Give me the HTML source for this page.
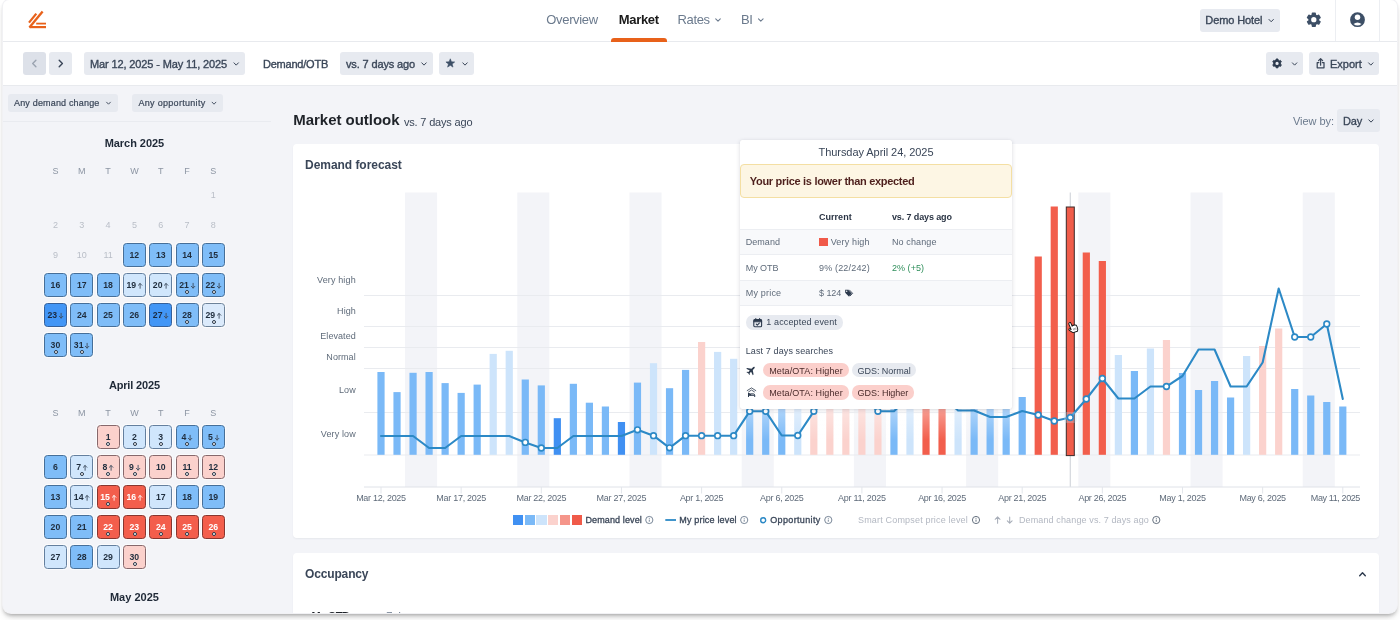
<!DOCTYPE html>
<html><head><meta charset="utf-8"><title>Market outlook</title>
<style>
html,body{margin:0;padding:0;background:#fff;}
body{width:1400px;height:620px;overflow:hidden;position:relative;font-family:"Liberation Sans", sans-serif;}
#win{position:absolute;left:2.5px;top:0;width:1394.5px;height:612.9px;border-radius:6px 6px 8px 8px;overflow:hidden;background:#f3f4f8;box-shadow:0 0 0 1px #f1f1f4,0 3px 4px -1px rgba(0,0,0,.32),0 6px 8px -2px rgba(0,0,0,.12);}
#in{position:absolute;left:-2.5px;top:0;width:1400px;height:620px;will-change:transform;}
</style></head><body>
<div id="win"><div id="in">
<div style="position:absolute;left:0.00px;top:0.00px;width:1400.00px;height:41.50px;background:#fff;border-radius:0px;"></div>
<div style="position:absolute;left:0.00px;top:41.00px;width:1400.00px;height:1.00px;background:#e8eaee;border-radius:0px;"></div>
<svg style="position:absolute;left:0;top:0;overflow:visible" width="1400" height="620" viewBox="0 0 1400 620"><g stroke="#e8611a" stroke-linecap="butt" fill="none"><path d="M29.0 22.6 L36.3 13.6" stroke-width="2.3"/><path d="M29.4 27.6 L42.6 11.4" stroke-width="2.3"/><path d="M36.2 23.6 L46.0 23.6" stroke-width="1.8"/><path d="M29.6 27.1 L46.0 27.1" stroke-width="2.2"/></g></svg>
<div style="position:absolute;left:546.30px;top:10.96px;font-size:13px;font-weight:400;color:#6b7a8d;line-height:18px;white-space:pre;letter-spacing:-0.336px;">Overview</div>
<div style="position:absolute;left:618.80px;top:10.96px;font-size:13px;font-weight:700;color:#1a1a1a;line-height:18px;white-space:pre;letter-spacing:-0.320px;">Market</div>
<div style="position:absolute;left:611.20px;top:38.00px;width:55.70px;height:3.50px;background:#e8611a;border-radius:0px;border-radius:3px 3px 0 0;"></div>
<div style="position:absolute;left:677.60px;top:10.96px;font-size:13px;font-weight:400;color:#6b7a8d;line-height:18px;white-space:pre;letter-spacing:-0.394px;">Rates</div>
<svg style="position:absolute;left:0;top:0;overflow:visible" width="1400" height="620" viewBox="0 0 1400 620"><path d="M715.70 18.80 L718.00 21.20 L720.30 18.80" fill="none" stroke="#6b7a8d" stroke-width="1.05" stroke-linecap="round" stroke-linejoin="round"/></svg>
<div style="position:absolute;left:741.00px;top:10.96px;font-size:13px;font-weight:400;color:#6b7a8d;line-height:18px;white-space:pre;letter-spacing:-0.448px;">BI</div>
<svg style="position:absolute;left:0;top:0;overflow:visible" width="1400" height="620" viewBox="0 0 1400 620"><path d="M758.50 18.80 L760.80 21.20 L763.10 18.80" fill="none" stroke="#6b7a8d" stroke-width="1.05" stroke-linecap="round" stroke-linejoin="round"/></svg>
<div style="position:absolute;left:1200.00px;top:9.00px;width:80.00px;height:22.70px;background:#e7eaf0;border-radius:3px;"></div>
<div style="position:absolute;left:1205.30px;top:13.19px;font-size:11px;font-weight:400;color:#3a4658;line-height:15px;white-space:pre;letter-spacing:-0.108px;-webkit-text-stroke:0.35px #3a4658;">Demo Hotel</div>
<svg style="position:absolute;left:0;top:0;overflow:visible" width="1400" height="620" viewBox="0 0 1400 620"><path d="M1269.00 19.45 L1271.20 21.75 L1273.40 19.45" fill="none" stroke="#3a4658" stroke-width="1.0" stroke-linecap="round" stroke-linejoin="round"/><path d="M1312.24 15.07 L1312.43 13.24 L1315.17 13.24 L1315.36 15.07 L1317.03 16.04 L1318.70 15.28 L1320.08 17.66 L1318.59 18.73 L1318.59 20.67 L1320.08 21.74 L1318.70 24.12 L1317.03 23.36 L1315.36 24.33 L1315.17 26.16 L1312.43 26.16 L1312.24 24.33 L1310.57 23.36 L1308.90 24.12 L1307.52 21.74 L1309.01 20.67 L1309.01 18.73 L1307.52 17.66 L1308.90 15.28 L1310.57 16.04 Z M1311.16 19.70 a2.64 2.64 0 1 0 5.28 0 a2.64 2.64 0 1 0 -5.28 0 Z" fill="#3d4f66" fill-rule="evenodd"/><path d="M1312.24 15.07 L1312.43 13.24 L1315.17 13.24 L1315.36 15.07 L1317.03 16.04 L1318.70 15.28 L1320.08 17.66 L1318.59 18.73 L1318.59 20.67 L1320.08 21.74 L1318.70 24.12 L1317.03 23.36 L1315.36 24.33 L1315.17 26.16 L1312.43 26.16 L1312.24 24.33 L1310.57 23.36 L1308.90 24.12 L1307.52 21.74 L1309.01 20.67 L1309.01 18.73 L1307.52 17.66 L1308.90 15.28 L1310.57 16.04 Z" fill="none" stroke="#3d4f66" stroke-width="1.45" stroke-linejoin="round"/></svg>
<div style="position:absolute;left:1335.30px;top:0.00px;width:1.00px;height:41.00px;background:#eceef2;border-radius:0px;"></div>
<div style="position:absolute;left:1379.30px;top:0.00px;width:1.00px;height:41.00px;background:#eceef2;border-radius:0px;"></div>
<svg style="position:absolute;left:0;top:0;overflow:visible" width="1400" height="620" viewBox="0 0 1400 620"><g><circle cx="1357.5" cy="19.7" r="7.4" fill="#3d4f66"/><circle cx="1357.5" cy="17.2" r="2.75" fill="#fff"/><path d="M1353.5 23.9 Q1357.5 20.9 1361.5 23.9 Q1357.5 27.0 1353.5 23.9 Z" fill="#fff"/></g></svg>
<div style="position:absolute;left:0.00px;top:42.00px;width:1400.00px;height:43.00px;background:#fff;border-radius:0px;"></div>
<div style="position:absolute;left:0.00px;top:85.00px;width:1400.00px;height:1.00px;background:#e8eaee;border-radius:0px;"></div>
<div style="position:absolute;left:23.20px;top:52.00px;width:22.60px;height:23.00px;background:#dde1e9;border-radius:3px;"></div>
<svg style="position:absolute;left:0;top:0;overflow:visible" width="1400" height="620" viewBox="0 0 1400 620"><path d="M35.90 60.30 L32.70 63.50 L35.90 66.70" fill="none" stroke="#9aa3b0" stroke-width="1.4" stroke-linecap="round" stroke-linejoin="round"/></svg>
<div style="position:absolute;left:49.00px;top:52.00px;width:23.10px;height:23.00px;background:#e7eaf0;border-radius:3px;"></div>
<svg style="position:absolute;left:0;top:0;overflow:visible" width="1400" height="620" viewBox="0 0 1400 620"><path d="M59.20 60.30 L62.40 63.50 L59.20 66.70" fill="none" stroke="#3a4658" stroke-width="1.4" stroke-linecap="round" stroke-linejoin="round"/></svg>
<div style="position:absolute;left:84.00px;top:52.00px;width:161.00px;height:23.00px;background:#e7eaf0;border-radius:3px;"></div>
<div style="position:absolute;left:90.00px;top:56.59px;font-size:11px;font-weight:400;color:#3a4658;line-height:15px;white-space:pre;letter-spacing:-0.127px;-webkit-text-stroke:0.35px #3a4658;">Mar 12, 2025 - May 11, 2025</div>
<svg style="position:absolute;left:0;top:0;overflow:visible" width="1400" height="620" viewBox="0 0 1400 620"><path d="M234.00 62.85 L236.20 65.15 L238.40 62.85" fill="none" stroke="#3a4658" stroke-width="1.0" stroke-linecap="round" stroke-linejoin="round"/></svg>
<div style="position:absolute;left:263.00px;top:56.59px;font-size:11px;font-weight:400;color:#3a4658;line-height:15px;white-space:pre;letter-spacing:-0.225px;-webkit-text-stroke:0.35px #3a4658;">Demand/OTB</div>
<div style="position:absolute;left:340.00px;top:52.00px;width:92.50px;height:23.00px;background:#e7eaf0;border-radius:3px;"></div>
<div style="position:absolute;left:346.00px;top:56.59px;font-size:11px;font-weight:400;color:#3a4658;line-height:15px;white-space:pre;letter-spacing:-0.138px;-webkit-text-stroke:0.35px #3a4658;">vs. 7 days ago</div>
<svg style="position:absolute;left:0;top:0;overflow:visible" width="1400" height="620" viewBox="0 0 1400 620"><path d="M421.80 62.85 L424.00 65.15 L426.20 62.85" fill="none" stroke="#3a4658" stroke-width="1.0" stroke-linecap="round" stroke-linejoin="round"/></svg>
<div style="position:absolute;left:439.00px;top:52.00px;width:34.50px;height:23.00px;background:#e7eaf0;border-radius:3px;"></div>
<svg style="position:absolute;left:0;top:0;overflow:visible" width="1400" height="620" viewBox="0 0 1400 620"><path d="M450.30 58.80 L451.44 61.84 L454.67 61.98 L452.14 64.00 L453.00 67.12 L450.30 65.33 L447.60 67.12 L448.46 64.00 L445.93 61.98 L449.16 61.84 Z" fill="#3d4f66" stroke="#3d4f66" stroke-width="0.6" stroke-linejoin="round"/><path d="M462.80 62.85 L465.00 65.15 L467.20 62.85" fill="none" stroke="#3a4658" stroke-width="1.0" stroke-linecap="round" stroke-linejoin="round"/></svg>
<div style="position:absolute;left:1265.60px;top:52.30px;width:37.80px;height:22.70px;background:#e7eaf0;border-radius:3px;"></div>
<svg style="position:absolute;left:0;top:0;overflow:visible" width="1400" height="620" viewBox="0 0 1400 620"><path d="M1275.99 60.24 L1276.11 59.00 L1277.99 59.00 L1278.11 60.24 L1279.25 60.90 L1280.39 60.39 L1281.33 62.01 L1280.31 62.74 L1280.31 64.06 L1281.33 64.79 L1280.39 66.41 L1279.25 65.90 L1278.11 66.56 L1277.99 67.80 L1276.11 67.80 L1275.99 66.56 L1274.85 65.90 L1273.71 66.41 L1272.77 64.79 L1273.79 64.06 L1273.79 62.74 L1272.77 62.01 L1273.71 60.39 L1274.85 60.90 Z M1275.43 63.40 a1.62 1.62 0 1 0 3.24 0 a1.62 1.62 0 1 0 -3.24 0 Z" fill="#2c3a4d" fill-rule="evenodd"/><path d="M1275.99 60.24 L1276.11 59.00 L1277.99 59.00 L1278.11 60.24 L1279.25 60.90 L1280.39 60.39 L1281.33 62.01 L1280.31 62.74 L1280.31 64.06 L1281.33 64.79 L1280.39 66.41 L1279.25 65.90 L1278.11 66.56 L1277.99 67.80 L1276.11 67.80 L1275.99 66.56 L1274.85 65.90 L1273.71 66.41 L1272.77 64.79 L1273.79 64.06 L1273.79 62.74 L1272.77 62.01 L1273.71 60.39 L1274.85 60.90 Z" fill="none" stroke="#2c3a4d" stroke-width="0.99" stroke-linejoin="round"/><path d="M1292.40 62.85 L1294.60 65.15 L1296.80 62.85" fill="none" stroke="#3a4658" stroke-width="1.0" stroke-linecap="round" stroke-linejoin="round"/></svg>
<div style="position:absolute;left:1309.20px;top:52.30px;width:70.00px;height:22.70px;background:#e7eaf0;border-radius:3px;"></div>
<svg style="position:absolute;left:0;top:0;overflow:visible" width="1400" height="620" viewBox="0 0 1400 620"><g fill="none" stroke="#3a4658" stroke-width="1.25" stroke-linecap="round" stroke-linejoin="round"><path d="M1318.8 62.6 H1317.1999999999998 V67.8 H1324.0 V62.6 H1322.3999999999999"/><path d="M1320.6 65.2 V58.800000000000004 M1318.6 60.6 L1320.6 58.6 L1322.6 60.6"/></g></svg>
<div style="position:absolute;left:1330.00px;top:56.59px;font-size:11px;font-weight:400;color:#3a4658;line-height:15px;white-space:pre;-webkit-text-stroke:0.35px #3a4658;">Export</div>
<svg style="position:absolute;left:0;top:0;overflow:visible" width="1400" height="620" viewBox="0 0 1400 620"><path d="M1368.60 62.85 L1370.80 65.15 L1373.00 62.85" fill="none" stroke="#3a4658" stroke-width="1.0" stroke-linecap="round" stroke-linejoin="round"/></svg>
<div style="position:absolute;left:8.00px;top:94.00px;width:110.00px;height:17.50px;background:#e7eaf0;border-radius:3px;"></div>
<div style="position:absolute;left:14.00px;top:96.81px;font-size:9px;font-weight:400;color:#3a4658;line-height:13px;white-space:pre;letter-spacing:0.173px;-webkit-text-stroke:0.2px #3a4658;">Any demand change</div>
<svg style="position:absolute;left:0;top:0;overflow:visible" width="1400" height="620" viewBox="0 0 1400 620"><path d="M106.60 102.20 L108.50 104.20 L110.40 102.20" fill="none" stroke="#3a4658" stroke-width="0.9" stroke-linecap="round" stroke-linejoin="round"/></svg>
<div style="position:absolute;left:132.00px;top:94.00px;width:91.00px;height:17.50px;background:#e7eaf0;border-radius:3px;"></div>
<div style="position:absolute;left:138.50px;top:96.81px;font-size:9px;font-weight:400;color:#3a4658;line-height:13px;white-space:pre;letter-spacing:0.297px;-webkit-text-stroke:0.2px #3a4658;">Any opportunity</div>
<svg style="position:absolute;left:0;top:0;overflow:visible" width="1400" height="620" viewBox="0 0 1400 620"><path d="M212.10 102.20 L214.00 104.20 L215.90 102.20" fill="none" stroke="#3a4658" stroke-width="0.9" stroke-linecap="round" stroke-linejoin="round"/></svg>
<div style="position:absolute;left:3.00px;top:120.60px;width:268.00px;height:1.00px;background:#e9ebf0;border-radius:0px;"></div>
<div style="position:absolute;left:104.70px;top:135.88px;font-size:11px;font-weight:700;color:#1f2937;line-height:15px;white-space:pre;letter-spacing:-0.054px;">March 2025</div>
<div style="position:absolute;left:52.39px;top:164.81px;font-size:9px;font-weight:400;color:#8c95a3;line-height:13px;white-space:pre;">S</div>
<div style="position:absolute;left:77.98px;top:164.81px;font-size:9px;font-weight:400;color:#8c95a3;line-height:13px;white-space:pre;">M</div>
<div style="position:absolute;left:105.31px;top:164.81px;font-size:9px;font-weight:400;color:#8c95a3;line-height:13px;white-space:pre;">T</div>
<div style="position:absolute;left:130.14px;top:164.81px;font-size:9px;font-weight:400;color:#8c95a3;line-height:13px;white-space:pre;">W</div>
<div style="position:absolute;left:157.97px;top:164.81px;font-size:9px;font-weight:400;color:#8c95a3;line-height:13px;white-space:pre;">T</div>
<div style="position:absolute;left:184.30px;top:164.81px;font-size:9px;font-weight:400;color:#8c95a3;line-height:13px;white-space:pre;">F</div>
<div style="position:absolute;left:210.37px;top:164.81px;font-size:9px;font-weight:400;color:#8c95a3;line-height:13px;white-space:pre;">S</div>
<div style="position:absolute;left:210.87px;top:188.81px;font-size:9px;font-weight:400;color:#b9bec7;line-height:13px;white-space:pre;">1</div>
<div style="position:absolute;left:52.89px;top:218.81px;font-size:9px;font-weight:400;color:#b9bec7;line-height:13px;white-space:pre;">2</div>
<div style="position:absolute;left:79.22px;top:218.81px;font-size:9px;font-weight:400;color:#b9bec7;line-height:13px;white-space:pre;">3</div>
<div style="position:absolute;left:105.55px;top:218.81px;font-size:9px;font-weight:400;color:#b9bec7;line-height:13px;white-space:pre;">4</div>
<div style="position:absolute;left:131.88px;top:218.81px;font-size:9px;font-weight:400;color:#b9bec7;line-height:13px;white-space:pre;">5</div>
<div style="position:absolute;left:158.21px;top:218.81px;font-size:9px;font-weight:400;color:#b9bec7;line-height:13px;white-space:pre;">6</div>
<div style="position:absolute;left:184.54px;top:218.81px;font-size:9px;font-weight:400;color:#b9bec7;line-height:13px;white-space:pre;">7</div>
<div style="position:absolute;left:210.87px;top:218.81px;font-size:9px;font-weight:400;color:#b9bec7;line-height:13px;white-space:pre;">8</div>
<div style="position:absolute;left:52.89px;top:248.81px;font-size:9px;font-weight:400;color:#b9bec7;line-height:13px;white-space:pre;">9</div>
<div style="position:absolute;left:76.72px;top:248.81px;font-size:9px;font-weight:400;color:#b9bec7;line-height:13px;white-space:pre;">10</div>
<div style="position:absolute;left:103.39px;top:248.81px;font-size:9px;font-weight:400;color:#b9bec7;line-height:13px;white-space:pre;">11</div>
<div style="position:absolute;left:122.89px;top:243.20px;width:23.0px;height:23.4px;box-sizing:border-box;border:1px solid #466f99;border-radius:3.5px;background:#7fbdf8;color:#1f2d3d;font-size:8.7px;font-weight:700;display:flex;align-items:center;justify-content:center;line-height:10px;box-shadow:0 0 0 1px rgba(255,255,255,.75);padding-top:0.9px"><span>12</span></div>
<div style="position:absolute;left:149.22px;top:243.20px;width:23.0px;height:23.4px;box-sizing:border-box;border:1px solid #466f99;border-radius:3.5px;background:#7fbdf8;color:#1f2d3d;font-size:8.7px;font-weight:700;display:flex;align-items:center;justify-content:center;line-height:10px;box-shadow:0 0 0 1px rgba(255,255,255,.75);padding-top:0.9px"><span>13</span></div>
<div style="position:absolute;left:175.55px;top:243.20px;width:23.0px;height:23.4px;box-sizing:border-box;border:1px solid #466f99;border-radius:3.5px;background:#7fbdf8;color:#1f2d3d;font-size:8.7px;font-weight:700;display:flex;align-items:center;justify-content:center;line-height:10px;box-shadow:0 0 0 1px rgba(255,255,255,.75);padding-top:0.9px"><span>14</span></div>
<div style="position:absolute;left:201.88px;top:243.20px;width:23.0px;height:23.4px;box-sizing:border-box;border:1px solid #466f99;border-radius:3.5px;background:#7fbdf8;color:#1f2d3d;font-size:8.7px;font-weight:700;display:flex;align-items:center;justify-content:center;line-height:10px;box-shadow:0 0 0 1px rgba(255,255,255,.75);padding-top:0.9px"><span>15</span></div>
<div style="position:absolute;left:43.90px;top:273.20px;width:23.0px;height:23.4px;box-sizing:border-box;border:1px solid #466f99;border-radius:3.5px;background:#7fbdf8;color:#1f2d3d;font-size:8.7px;font-weight:700;display:flex;align-items:center;justify-content:center;line-height:10px;box-shadow:0 0 0 1px rgba(255,255,255,.75);padding-top:0.9px"><span>16</span></div>
<div style="position:absolute;left:70.23px;top:273.20px;width:23.0px;height:23.4px;box-sizing:border-box;border:1px solid #466f99;border-radius:3.5px;background:#7fbdf8;color:#1f2d3d;font-size:8.7px;font-weight:700;display:flex;align-items:center;justify-content:center;line-height:10px;box-shadow:0 0 0 1px rgba(255,255,255,.75);padding-top:0.9px"><span>17</span></div>
<div style="position:absolute;left:96.56px;top:273.20px;width:23.0px;height:23.4px;box-sizing:border-box;border:1px solid #466f99;border-radius:3.5px;background:#7fbdf8;color:#1f2d3d;font-size:8.7px;font-weight:700;display:flex;align-items:center;justify-content:center;line-height:10px;box-shadow:0 0 0 1px rgba(255,255,255,.75);padding-top:0.9px"><span>18</span></div>
<div style="position:absolute;left:122.89px;top:273.20px;width:23.0px;height:23.4px;box-sizing:border-box;border:1px solid #647f9e;border-radius:3.5px;background:#d0e6fc;color:#1f2d3d;font-size:8.7px;font-weight:700;display:flex;align-items:center;justify-content:center;line-height:10px;box-shadow:0 0 0 1px rgba(255,255,255,.75);padding-top:0.9px"><span>19</span><svg width="4.2" height="5.6" viewBox="0 0 4.2 5.6" style="margin-left:1.9px;overflow:visible"><path d="M2.1 5.3 V0.5 M0.3 2.3 L2.1 0.5 L3.9 2.3" fill="none" stroke="#3d4c5e" stroke-width="0.9" stroke-linecap="round" stroke-linejoin="round"/></svg></div>
<div style="position:absolute;left:149.22px;top:273.20px;width:23.0px;height:23.4px;box-sizing:border-box;border:1px solid #647f9e;border-radius:3.5px;background:#d0e6fc;color:#1f2d3d;font-size:8.7px;font-weight:700;display:flex;align-items:center;justify-content:center;line-height:10px;box-shadow:0 0 0 1px rgba(255,255,255,.75);padding-top:0.9px"><span>20</span><svg width="4.2" height="5.6" viewBox="0 0 4.2 5.6" style="margin-left:1.9px;overflow:visible"><path d="M2.1 5.3 V0.5 M0.3 2.3 L2.1 0.5 L3.9 2.3" fill="none" stroke="#3d4c5e" stroke-width="0.9" stroke-linecap="round" stroke-linejoin="round"/></svg></div>
<div style="position:absolute;left:175.55px;top:273.20px;width:23.0px;height:23.4px;box-sizing:border-box;border:1px solid #466f99;border-radius:3.5px;background:#7fbdf8;color:#1f2d3d;font-size:8.7px;font-weight:700;display:flex;align-items:center;justify-content:center;line-height:10px;box-shadow:0 0 0 1px rgba(255,255,255,.75);padding-top:0.9px"><span>21</span><svg width="4.2" height="5.6" viewBox="0 0 4.2 5.6" style="margin-left:1.9px;overflow:visible"><path d="M2.1 0.3 V5.1 M0.3 3.3 L2.1 5.1 L3.9 3.3" fill="none" stroke="#3d4c5e" stroke-width="0.9" stroke-linecap="round" stroke-linejoin="round"/></svg><i style="position:absolute;left:8.75px;top:15.90px;width:2.1px;height:2.1px;border-radius:50%;background:#fff;border:0.8px solid #263445;box-sizing:content-box"></i></div>
<div style="position:absolute;left:201.88px;top:273.20px;width:23.0px;height:23.4px;box-sizing:border-box;border:1px solid #466f99;border-radius:3.5px;background:#7fbdf8;color:#1f2d3d;font-size:8.7px;font-weight:700;display:flex;align-items:center;justify-content:center;line-height:10px;box-shadow:0 0 0 1px rgba(255,255,255,.75);padding-top:0.9px"><span>22</span><svg width="4.2" height="5.6" viewBox="0 0 4.2 5.6" style="margin-left:1.9px;overflow:visible"><path d="M2.1 0.3 V5.1 M0.3 3.3 L2.1 5.1 L3.9 3.3" fill="none" stroke="#3d4c5e" stroke-width="0.9" stroke-linecap="round" stroke-linejoin="round"/></svg><i style="position:absolute;left:8.75px;top:15.90px;width:2.1px;height:2.1px;border-radius:50%;background:#fff;border:0.8px solid #263445;box-sizing:content-box"></i></div>
<div style="position:absolute;left:43.90px;top:303.20px;width:23.0px;height:23.4px;box-sizing:border-box;border:1px solid #35609a;border-radius:3.5px;background:#4296f6;color:#1a2a40;font-size:8.7px;font-weight:700;display:flex;align-items:center;justify-content:center;line-height:10px;box-shadow:0 0 0 1px rgba(255,255,255,.75);padding-top:0.9px"><span>23</span><svg width="4.2" height="5.6" viewBox="0 0 4.2 5.6" style="margin-left:1.9px;overflow:visible"><path d="M2.1 0.3 V5.1 M0.3 3.3 L2.1 5.1 L3.9 3.3" fill="none" stroke="#3d4c5e" stroke-width="0.9" stroke-linecap="round" stroke-linejoin="round"/></svg></div>
<div style="position:absolute;left:70.23px;top:303.20px;width:23.0px;height:23.4px;box-sizing:border-box;border:1px solid #466f99;border-radius:3.5px;background:#7fbdf8;color:#1f2d3d;font-size:8.7px;font-weight:700;display:flex;align-items:center;justify-content:center;line-height:10px;box-shadow:0 0 0 1px rgba(255,255,255,.75);padding-top:0.9px"><span>24</span></div>
<div style="position:absolute;left:96.56px;top:303.20px;width:23.0px;height:23.4px;box-sizing:border-box;border:1px solid #466f99;border-radius:3.5px;background:#7fbdf8;color:#1f2d3d;font-size:8.7px;font-weight:700;display:flex;align-items:center;justify-content:center;line-height:10px;box-shadow:0 0 0 1px rgba(255,255,255,.75);padding-top:0.9px"><span>25</span></div>
<div style="position:absolute;left:122.89px;top:303.20px;width:23.0px;height:23.4px;box-sizing:border-box;border:1px solid #466f99;border-radius:3.5px;background:#7fbdf8;color:#1f2d3d;font-size:8.7px;font-weight:700;display:flex;align-items:center;justify-content:center;line-height:10px;box-shadow:0 0 0 1px rgba(255,255,255,.75);padding-top:0.9px"><span>26</span></div>
<div style="position:absolute;left:149.22px;top:303.20px;width:23.0px;height:23.4px;box-sizing:border-box;border:1px solid #35609a;border-radius:3.5px;background:#4296f6;color:#1a2a40;font-size:8.7px;font-weight:700;display:flex;align-items:center;justify-content:center;line-height:10px;box-shadow:0 0 0 1px rgba(255,255,255,.75);padding-top:0.9px"><span>27</span><svg width="4.2" height="5.6" viewBox="0 0 4.2 5.6" style="margin-left:1.9px;overflow:visible"><path d="M2.1 0.3 V5.1 M0.3 3.3 L2.1 5.1 L3.9 3.3" fill="none" stroke="#3d4c5e" stroke-width="0.9" stroke-linecap="round" stroke-linejoin="round"/></svg></div>
<div style="position:absolute;left:175.55px;top:303.20px;width:23.0px;height:23.4px;box-sizing:border-box;border:1px solid #466f99;border-radius:3.5px;background:#7fbdf8;color:#1f2d3d;font-size:8.7px;font-weight:700;display:flex;align-items:center;justify-content:center;line-height:10px;box-shadow:0 0 0 1px rgba(255,255,255,.75);padding-top:0.9px"><span>28</span><i style="position:absolute;left:8.75px;top:15.90px;width:2.1px;height:2.1px;border-radius:50%;background:#fff;border:0.8px solid #263445;box-sizing:content-box"></i></div>
<div style="position:absolute;left:201.88px;top:303.20px;width:23.0px;height:23.4px;box-sizing:border-box;border:1px solid #6d8299;border-radius:3.5px;background:#dbeafb;color:#1f2d3d;font-size:8.7px;font-weight:700;display:flex;align-items:center;justify-content:center;line-height:10px;box-shadow:0 0 0 1px rgba(255,255,255,.75);padding-top:0.9px"><span>29</span><svg width="4.2" height="5.6" viewBox="0 0 4.2 5.6" style="margin-left:1.9px;overflow:visible"><path d="M2.1 5.3 V0.5 M0.3 2.3 L2.1 0.5 L3.9 2.3" fill="none" stroke="#3d4c5e" stroke-width="0.9" stroke-linecap="round" stroke-linejoin="round"/></svg><i style="position:absolute;left:8.75px;top:15.90px;width:2.1px;height:2.1px;border-radius:50%;background:#fff;border:0.8px solid #263445;box-sizing:content-box"></i></div>
<div style="position:absolute;left:43.90px;top:333.20px;width:23.0px;height:23.4px;box-sizing:border-box;border:1px solid #466f99;border-radius:3.5px;background:#7fbdf8;color:#1f2d3d;font-size:8.7px;font-weight:700;display:flex;align-items:center;justify-content:center;line-height:10px;box-shadow:0 0 0 1px rgba(255,255,255,.75);padding-top:0.9px"><span>30</span><i style="position:absolute;left:8.75px;top:15.90px;width:2.1px;height:2.1px;border-radius:50%;background:#fff;border:0.8px solid #263445;box-sizing:content-box"></i></div>
<div style="position:absolute;left:70.23px;top:333.20px;width:23.0px;height:23.4px;box-sizing:border-box;border:1px solid #466f99;border-radius:3.5px;background:#7fbdf8;color:#1f2d3d;font-size:8.7px;font-weight:700;display:flex;align-items:center;justify-content:center;line-height:10px;box-shadow:0 0 0 1px rgba(255,255,255,.75);padding-top:0.9px"><span>31</span><svg width="4.2" height="5.6" viewBox="0 0 4.2 5.6" style="margin-left:1.9px;overflow:visible"><path d="M2.1 0.3 V5.1 M0.3 3.3 L2.1 5.1 L3.9 3.3" fill="none" stroke="#3d4c5e" stroke-width="0.9" stroke-linecap="round" stroke-linejoin="round"/></svg><i style="position:absolute;left:8.75px;top:15.90px;width:2.1px;height:2.1px;border-radius:50%;background:#fff;border:0.8px solid #263445;box-sizing:content-box"></i></div>
<div style="position:absolute;left:108.90px;top:377.88px;font-size:11px;font-weight:700;color:#1f2937;line-height:15px;white-space:pre;letter-spacing:-0.159px;">April 2025</div>
<div style="position:absolute;left:52.39px;top:406.81px;font-size:9px;font-weight:400;color:#8c95a3;line-height:13px;white-space:pre;">S</div>
<div style="position:absolute;left:77.98px;top:406.81px;font-size:9px;font-weight:400;color:#8c95a3;line-height:13px;white-space:pre;">M</div>
<div style="position:absolute;left:105.31px;top:406.81px;font-size:9px;font-weight:400;color:#8c95a3;line-height:13px;white-space:pre;">T</div>
<div style="position:absolute;left:130.14px;top:406.81px;font-size:9px;font-weight:400;color:#8c95a3;line-height:13px;white-space:pre;">W</div>
<div style="position:absolute;left:157.97px;top:406.81px;font-size:9px;font-weight:400;color:#8c95a3;line-height:13px;white-space:pre;">T</div>
<div style="position:absolute;left:184.30px;top:406.81px;font-size:9px;font-weight:400;color:#8c95a3;line-height:13px;white-space:pre;">F</div>
<div style="position:absolute;left:210.37px;top:406.81px;font-size:9px;font-weight:400;color:#8c95a3;line-height:13px;white-space:pre;">S</div>
<div style="position:absolute;left:96.56px;top:425.20px;width:23.0px;height:23.4px;box-sizing:border-box;border:1px solid #86686c;border-radius:3.5px;background:#fbd1cc;color:#1f2d3d;font-size:8.7px;font-weight:700;display:flex;align-items:center;justify-content:center;line-height:10px;box-shadow:0 0 0 1px rgba(255,255,255,.75);padding-top:0.9px"><span>1</span><i style="position:absolute;left:8.75px;top:15.90px;width:2.1px;height:2.1px;border-radius:50%;background:#fff;border:0.8px solid #263445;box-sizing:content-box"></i></div>
<div style="position:absolute;left:122.89px;top:425.20px;width:23.0px;height:23.4px;box-sizing:border-box;border:1px solid #647f9e;border-radius:3.5px;background:#d0e6fc;color:#1f2d3d;font-size:8.7px;font-weight:700;display:flex;align-items:center;justify-content:center;line-height:10px;box-shadow:0 0 0 1px rgba(255,255,255,.75);padding-top:0.9px"><span>2</span><i style="position:absolute;left:8.75px;top:15.90px;width:2.1px;height:2.1px;border-radius:50%;background:#fff;border:0.8px solid #263445;box-sizing:content-box"></i></div>
<div style="position:absolute;left:149.22px;top:425.20px;width:23.0px;height:23.4px;box-sizing:border-box;border:1px solid #647f9e;border-radius:3.5px;background:#d0e6fc;color:#1f2d3d;font-size:8.7px;font-weight:700;display:flex;align-items:center;justify-content:center;line-height:10px;box-shadow:0 0 0 1px rgba(255,255,255,.75);padding-top:0.9px"><span>3</span><i style="position:absolute;left:8.75px;top:15.90px;width:2.1px;height:2.1px;border-radius:50%;background:#fff;border:0.8px solid #263445;box-sizing:content-box"></i></div>
<div style="position:absolute;left:175.55px;top:425.20px;width:23.0px;height:23.4px;box-sizing:border-box;border:1px solid #466f99;border-radius:3.5px;background:#7fbdf8;color:#1f2d3d;font-size:8.7px;font-weight:700;display:flex;align-items:center;justify-content:center;line-height:10px;box-shadow:0 0 0 1px rgba(255,255,255,.75);padding-top:0.9px"><span>4</span><svg width="4.2" height="5.6" viewBox="0 0 4.2 5.6" style="margin-left:1.9px;overflow:visible"><path d="M2.1 0.3 V5.1 M0.3 3.3 L2.1 5.1 L3.9 3.3" fill="none" stroke="#3d4c5e" stroke-width="0.9" stroke-linecap="round" stroke-linejoin="round"/></svg><i style="position:absolute;left:8.75px;top:15.90px;width:2.1px;height:2.1px;border-radius:50%;background:#fff;border:0.8px solid #263445;box-sizing:content-box"></i></div>
<div style="position:absolute;left:201.88px;top:425.20px;width:23.0px;height:23.4px;box-sizing:border-box;border:1px solid #466f99;border-radius:3.5px;background:#7fbdf8;color:#1f2d3d;font-size:8.7px;font-weight:700;display:flex;align-items:center;justify-content:center;line-height:10px;box-shadow:0 0 0 1px rgba(255,255,255,.75);padding-top:0.9px"><span>5</span><svg width="4.2" height="5.6" viewBox="0 0 4.2 5.6" style="margin-left:1.9px;overflow:visible"><path d="M2.1 0.3 V5.1 M0.3 3.3 L2.1 5.1 L3.9 3.3" fill="none" stroke="#3d4c5e" stroke-width="0.9" stroke-linecap="round" stroke-linejoin="round"/></svg><i style="position:absolute;left:8.75px;top:15.90px;width:2.1px;height:2.1px;border-radius:50%;background:#fff;border:0.8px solid #263445;box-sizing:content-box"></i></div>
<div style="position:absolute;left:43.90px;top:455.20px;width:23.0px;height:23.4px;box-sizing:border-box;border:1px solid #466f99;border-radius:3.5px;background:#7fbdf8;color:#1f2d3d;font-size:8.7px;font-weight:700;display:flex;align-items:center;justify-content:center;line-height:10px;box-shadow:0 0 0 1px rgba(255,255,255,.75);padding-top:0.9px"><span>6</span></div>
<div style="position:absolute;left:70.23px;top:455.20px;width:23.0px;height:23.4px;box-sizing:border-box;border:1px solid #647f9e;border-radius:3.5px;background:#d0e6fc;color:#1f2d3d;font-size:8.7px;font-weight:700;display:flex;align-items:center;justify-content:center;line-height:10px;box-shadow:0 0 0 1px rgba(255,255,255,.75);padding-top:0.9px"><span>7</span><svg width="4.2" height="5.6" viewBox="0 0 4.2 5.6" style="margin-left:1.9px;overflow:visible"><path d="M2.1 5.3 V0.5 M0.3 2.3 L2.1 0.5 L3.9 2.3" fill="none" stroke="#3d4c5e" stroke-width="0.9" stroke-linecap="round" stroke-linejoin="round"/></svg><i style="position:absolute;left:8.75px;top:15.90px;width:2.1px;height:2.1px;border-radius:50%;background:#fff;border:0.8px solid #263445;box-sizing:content-box"></i></div>
<div style="position:absolute;left:96.56px;top:455.20px;width:23.0px;height:23.4px;box-sizing:border-box;border:1px solid #86686c;border-radius:3.5px;background:#fbd1cc;color:#1f2d3d;font-size:8.7px;font-weight:700;display:flex;align-items:center;justify-content:center;line-height:10px;box-shadow:0 0 0 1px rgba(255,255,255,.75);padding-top:0.9px"><span>8</span><svg width="4.2" height="5.6" viewBox="0 0 4.2 5.6" style="margin-left:1.9px;overflow:visible"><path d="M2.1 5.3 V0.5 M0.3 2.3 L2.1 0.5 L3.9 2.3" fill="none" stroke="#3d4c5e" stroke-width="0.9" stroke-linecap="round" stroke-linejoin="round"/></svg><i style="position:absolute;left:8.75px;top:15.90px;width:2.1px;height:2.1px;border-radius:50%;background:#fff;border:0.8px solid #263445;box-sizing:content-box"></i></div>
<div style="position:absolute;left:122.89px;top:455.20px;width:23.0px;height:23.4px;box-sizing:border-box;border:1px solid #86686c;border-radius:3.5px;background:#fbd1cc;color:#1f2d3d;font-size:8.7px;font-weight:700;display:flex;align-items:center;justify-content:center;line-height:10px;box-shadow:0 0 0 1px rgba(255,255,255,.75);padding-top:0.9px"><span>9</span><svg width="4.2" height="5.6" viewBox="0 0 4.2 5.6" style="margin-left:1.9px;overflow:visible"><path d="M2.1 0.3 V5.1 M0.3 3.3 L2.1 5.1 L3.9 3.3" fill="none" stroke="#3d4c5e" stroke-width="0.9" stroke-linecap="round" stroke-linejoin="round"/></svg><i style="position:absolute;left:8.75px;top:15.90px;width:2.1px;height:2.1px;border-radius:50%;background:#fff;border:0.8px solid #263445;box-sizing:content-box"></i></div>
<div style="position:absolute;left:149.22px;top:455.20px;width:23.0px;height:23.4px;box-sizing:border-box;border:1px solid #86686c;border-radius:3.5px;background:#fbd1cc;color:#1f2d3d;font-size:8.7px;font-weight:700;display:flex;align-items:center;justify-content:center;line-height:10px;box-shadow:0 0 0 1px rgba(255,255,255,.75);padding-top:0.9px"><span>10</span></div>
<div style="position:absolute;left:175.55px;top:455.20px;width:23.0px;height:23.4px;box-sizing:border-box;border:1px solid #86686c;border-radius:3.5px;background:#fbd1cc;color:#1f2d3d;font-size:8.7px;font-weight:700;display:flex;align-items:center;justify-content:center;line-height:10px;box-shadow:0 0 0 1px rgba(255,255,255,.75);padding-top:0.9px"><span>11</span><i style="position:absolute;left:8.75px;top:15.90px;width:2.1px;height:2.1px;border-radius:50%;background:#fff;border:0.8px solid #263445;box-sizing:content-box"></i></div>
<div style="position:absolute;left:201.88px;top:455.20px;width:23.0px;height:23.4px;box-sizing:border-box;border:1px solid #86686c;border-radius:3.5px;background:#fbd1cc;color:#1f2d3d;font-size:8.7px;font-weight:700;display:flex;align-items:center;justify-content:center;line-height:10px;box-shadow:0 0 0 1px rgba(255,255,255,.75);padding-top:0.9px"><span>12</span><i style="position:absolute;left:8.75px;top:15.90px;width:2.1px;height:2.1px;border-radius:50%;background:#fff;border:0.8px solid #263445;box-sizing:content-box"></i></div>
<div style="position:absolute;left:43.90px;top:485.20px;width:23.0px;height:23.4px;box-sizing:border-box;border:1px solid #466f99;border-radius:3.5px;background:#7fbdf8;color:#1f2d3d;font-size:8.7px;font-weight:700;display:flex;align-items:center;justify-content:center;line-height:10px;box-shadow:0 0 0 1px rgba(255,255,255,.75);padding-top:0.9px"><span>13</span></div>
<div style="position:absolute;left:70.23px;top:485.20px;width:23.0px;height:23.4px;box-sizing:border-box;border:1px solid #647f9e;border-radius:3.5px;background:#d0e6fc;color:#1f2d3d;font-size:8.7px;font-weight:700;display:flex;align-items:center;justify-content:center;line-height:10px;box-shadow:0 0 0 1px rgba(255,255,255,.75);padding-top:0.9px"><span>14</span><svg width="4.2" height="5.6" viewBox="0 0 4.2 5.6" style="margin-left:1.9px;overflow:visible"><path d="M2.1 5.3 V0.5 M0.3 2.3 L2.1 0.5 L3.9 2.3" fill="none" stroke="#3d4c5e" stroke-width="0.9" stroke-linecap="round" stroke-linejoin="round"/></svg></div>
<div style="position:absolute;left:96.56px;top:485.20px;width:23.0px;height:23.4px;box-sizing:border-box;border:1px solid #86352f;border-radius:3.5px;background:#f35e4c;color:#ffffff;font-size:8.7px;font-weight:700;display:flex;align-items:center;justify-content:center;line-height:10px;box-shadow:0 0 0 1px rgba(255,255,255,.75);padding-top:0.9px"><span>15</span><svg width="4.2" height="5.6" viewBox="0 0 4.2 5.6" style="margin-left:1.9px;overflow:visible"><path d="M2.1 5.3 V0.5 M0.3 2.3 L2.1 0.5 L3.9 2.3" fill="none" stroke="#ffffff" stroke-width="0.9" stroke-linecap="round" stroke-linejoin="round"/></svg><i style="position:absolute;left:8.75px;top:15.90px;width:2.1px;height:2.1px;border-radius:50%;background:#fff;border:0.8px solid #263445;box-sizing:content-box"></i></div>
<div style="position:absolute;left:122.89px;top:485.20px;width:23.0px;height:23.4px;box-sizing:border-box;border:1px solid #86352f;border-radius:3.5px;background:#f35e4c;color:#ffffff;font-size:8.7px;font-weight:700;display:flex;align-items:center;justify-content:center;line-height:10px;box-shadow:0 0 0 1px rgba(255,255,255,.75);padding-top:0.9px"><span>16</span><svg width="4.2" height="5.6" viewBox="0 0 4.2 5.6" style="margin-left:1.9px;overflow:visible"><path d="M2.1 5.3 V0.5 M0.3 2.3 L2.1 0.5 L3.9 2.3" fill="none" stroke="#ffffff" stroke-width="0.9" stroke-linecap="round" stroke-linejoin="round"/></svg></div>
<div style="position:absolute;left:149.22px;top:485.20px;width:23.0px;height:23.4px;box-sizing:border-box;border:1px solid #647f9e;border-radius:3.5px;background:#d0e6fc;color:#1f2d3d;font-size:8.7px;font-weight:700;display:flex;align-items:center;justify-content:center;line-height:10px;box-shadow:0 0 0 1px rgba(255,255,255,.75);padding-top:0.9px"><span>17</span></div>
<div style="position:absolute;left:175.55px;top:485.20px;width:23.0px;height:23.4px;box-sizing:border-box;border:1px solid #466f99;border-radius:3.5px;background:#7fbdf8;color:#1f2d3d;font-size:8.7px;font-weight:700;display:flex;align-items:center;justify-content:center;line-height:10px;box-shadow:0 0 0 1px rgba(255,255,255,.75);padding-top:0.9px"><span>18</span></div>
<div style="position:absolute;left:201.88px;top:485.20px;width:23.0px;height:23.4px;box-sizing:border-box;border:1px solid #466f99;border-radius:3.5px;background:#7fbdf8;color:#1f2d3d;font-size:8.7px;font-weight:700;display:flex;align-items:center;justify-content:center;line-height:10px;box-shadow:0 0 0 1px rgba(255,255,255,.75);padding-top:0.9px"><span>19</span></div>
<div style="position:absolute;left:43.90px;top:515.20px;width:23.0px;height:23.4px;box-sizing:border-box;border:1px solid #466f99;border-radius:3.5px;background:#7fbdf8;color:#1f2d3d;font-size:8.7px;font-weight:700;display:flex;align-items:center;justify-content:center;line-height:10px;box-shadow:0 0 0 1px rgba(255,255,255,.75);padding-top:0.9px"><span>20</span></div>
<div style="position:absolute;left:70.23px;top:515.20px;width:23.0px;height:23.4px;box-sizing:border-box;border:1px solid #466f99;border-radius:3.5px;background:#7fbdf8;color:#1f2d3d;font-size:8.7px;font-weight:700;display:flex;align-items:center;justify-content:center;line-height:10px;box-shadow:0 0 0 1px rgba(255,255,255,.75);padding-top:0.9px"><span>21</span></div>
<div style="position:absolute;left:96.56px;top:515.20px;width:23.0px;height:23.4px;box-sizing:border-box;border:1px solid #86352f;border-radius:3.5px;background:#f35e4c;color:#ffffff;font-size:8.7px;font-weight:700;display:flex;align-items:center;justify-content:center;line-height:10px;box-shadow:0 0 0 1px rgba(255,255,255,.75);padding-top:0.9px"><span>22</span><i style="position:absolute;left:8.75px;top:15.90px;width:2.1px;height:2.1px;border-radius:50%;background:#fff;border:0.8px solid #263445;box-sizing:content-box"></i></div>
<div style="position:absolute;left:122.89px;top:515.20px;width:23.0px;height:23.4px;box-sizing:border-box;border:1px solid #86352f;border-radius:3.5px;background:#f35e4c;color:#ffffff;font-size:8.7px;font-weight:700;display:flex;align-items:center;justify-content:center;line-height:10px;box-shadow:0 0 0 1px rgba(255,255,255,.75);padding-top:0.9px"><span>23</span><i style="position:absolute;left:8.75px;top:15.90px;width:2.1px;height:2.1px;border-radius:50%;background:#fff;border:0.8px solid #263445;box-sizing:content-box"></i></div>
<div style="position:absolute;left:149.22px;top:515.20px;width:23.0px;height:23.4px;box-sizing:border-box;border:1px solid #86352f;border-radius:3.5px;background:#f35e4c;color:#ffffff;font-size:8.7px;font-weight:700;display:flex;align-items:center;justify-content:center;line-height:10px;box-shadow:0 0 0 1px rgba(255,255,255,.75);padding-top:0.9px"><span>24</span><i style="position:absolute;left:8.75px;top:15.90px;width:2.1px;height:2.1px;border-radius:50%;background:#fff;border:0.8px solid #263445;box-sizing:content-box"></i></div>
<div style="position:absolute;left:175.55px;top:515.20px;width:23.0px;height:23.4px;box-sizing:border-box;border:1px solid #86352f;border-radius:3.5px;background:#f35e4c;color:#ffffff;font-size:8.7px;font-weight:700;display:flex;align-items:center;justify-content:center;line-height:10px;box-shadow:0 0 0 1px rgba(255,255,255,.75);padding-top:0.9px"><span>25</span><i style="position:absolute;left:8.75px;top:15.90px;width:2.1px;height:2.1px;border-radius:50%;background:#fff;border:0.8px solid #263445;box-sizing:content-box"></i></div>
<div style="position:absolute;left:201.88px;top:515.20px;width:23.0px;height:23.4px;box-sizing:border-box;border:1px solid #86352f;border-radius:3.5px;background:#f35e4c;color:#ffffff;font-size:8.7px;font-weight:700;display:flex;align-items:center;justify-content:center;line-height:10px;box-shadow:0 0 0 1px rgba(255,255,255,.75);padding-top:0.9px"><span>26</span><i style="position:absolute;left:8.75px;top:15.90px;width:2.1px;height:2.1px;border-radius:50%;background:#fff;border:0.8px solid #263445;box-sizing:content-box"></i></div>
<div style="position:absolute;left:43.90px;top:545.20px;width:23.0px;height:23.4px;box-sizing:border-box;border:1px solid #647f9e;border-radius:3.5px;background:#d0e6fc;color:#1f2d3d;font-size:8.7px;font-weight:700;display:flex;align-items:center;justify-content:center;line-height:10px;box-shadow:0 0 0 1px rgba(255,255,255,.75);padding-top:0.9px"><span>27</span></div>
<div style="position:absolute;left:70.23px;top:545.20px;width:23.0px;height:23.4px;box-sizing:border-box;border:1px solid #466f99;border-radius:3.5px;background:#7fbdf8;color:#1f2d3d;font-size:8.7px;font-weight:700;display:flex;align-items:center;justify-content:center;line-height:10px;box-shadow:0 0 0 1px rgba(255,255,255,.75);padding-top:0.9px"><span>28</span></div>
<div style="position:absolute;left:96.56px;top:545.20px;width:23.0px;height:23.4px;box-sizing:border-box;border:1px solid #647f9e;border-radius:3.5px;background:#d0e6fc;color:#1f2d3d;font-size:8.7px;font-weight:700;display:flex;align-items:center;justify-content:center;line-height:10px;box-shadow:0 0 0 1px rgba(255,255,255,.75);padding-top:0.9px"><span>29</span></div>
<div style="position:absolute;left:122.89px;top:545.20px;width:23.0px;height:23.4px;box-sizing:border-box;border:1px solid #86686c;border-radius:3.5px;background:#fbd1cc;color:#1f2d3d;font-size:8.7px;font-weight:700;display:flex;align-items:center;justify-content:center;line-height:10px;box-shadow:0 0 0 1px rgba(255,255,255,.75);padding-top:0.9px"><span>30</span><i style="position:absolute;left:8.75px;top:15.90px;width:2.1px;height:2.1px;border-radius:50%;background:#fff;border:0.8px solid #263445;box-sizing:content-box"></i></div>
<div style="position:absolute;left:109.90px;top:589.88px;font-size:11px;font-weight:700;color:#1f2937;line-height:15px;white-space:pre;letter-spacing:0.008px;">May 2025</div>
<div style="position:absolute;left:293.30px;top:109.33px;font-size:15px;font-weight:700;color:#1f2329;line-height:21px;white-space:pre;letter-spacing:-0.035px;">Market outlook</div>
<div style="position:absolute;left:403.90px;top:115.09px;font-size:11px;font-weight:400;color:#3a4658;line-height:15px;white-space:pre;letter-spacing:-0.174px;">vs. 7 days ago</div>
<div style="position:absolute;left:1293.00px;top:114.09px;font-size:11px;font-weight:400;color:#6b7a8d;line-height:15px;white-space:pre;letter-spacing:-0.047px;">View by:</div>
<div style="position:absolute;left:1337.00px;top:109.00px;width:42.50px;height:23.00px;background:#e7eaf0;border-radius:3px;"></div>
<div style="position:absolute;left:1343.00px;top:114.09px;font-size:11px;font-weight:400;color:#3a4658;line-height:15px;white-space:pre;letter-spacing:-0.188px;-webkit-text-stroke:0.3px #3a4658;">Day</div>
<svg style="position:absolute;left:0;top:0;overflow:visible" width="1400" height="620" viewBox="0 0 1400 620"><path d="M1368.80 119.85 L1371.00 122.15 L1373.20 119.85" fill="none" stroke="#3a4658" stroke-width="1.0" stroke-linecap="round" stroke-linejoin="round"/></svg>
<div style="position:absolute;left:293.30px;top:143.80px;width:1086.00px;height:394.70px;background:#fff;border-radius:4px;box-shadow:0 1px 2px rgba(40,50,70,.06);"></div>
<div style="position:absolute;left:293.30px;top:553.00px;width:1086.00px;height:80.00px;background:#fff;border-radius:4px;box-shadow:0 1px 2px rgba(40,50,70,.06);"></div>
<div style="position:absolute;left:305.00px;top:157.02px;font-size:12px;font-weight:700;color:#3a4658;line-height:17px;white-space:pre;letter-spacing:-0.038px;">Demand forecast</div>
<div style="position:absolute;left:305.00px;top:566.22px;font-size:12px;font-weight:700;color:#3a4658;line-height:17px;white-space:pre;letter-spacing:-0.145px;">Occupancy</div>
<svg style="position:absolute;left:0;top:0;overflow:visible" width="1400" height="620" viewBox="0 0 1400 620"><path d="M1359.70 575.70 L1362.50 572.70 L1365.30 575.70" fill="none" stroke="#2c3a4d" stroke-width="1.4" stroke-linecap="round" stroke-linejoin="round"/></svg>
<div style="position:absolute;left:311.50px;top:608.68px;font-size:11px;font-weight:700;color:#1f2329;line-height:15px;white-space:pre;letter-spacing:-0.677px;">My OTB</div>
<div style="position:absolute;left:370.00px;top:609.09px;font-size:11px;font-weight:400;color:#6b7a8d;line-height:15px;white-space:pre;letter-spacing:-0.246px;">vs. 7 days ago</div>
<svg style="position:absolute;left:0;top:0;overflow:visible" width="1400" height="620" viewBox="0 0 1400 620"><rect x="405.06" y="192.5" width="32.06" height="294.5" fill="#f3f4f8"/><rect x="517.27" y="192.5" width="32.06" height="294.5" fill="#f3f4f8"/><rect x="629.48" y="192.5" width="32.06" height="294.5" fill="#f3f4f8"/><rect x="741.69" y="192.5" width="32.06" height="294.5" fill="#f3f4f8"/><rect x="853.90" y="192.5" width="32.06" height="294.5" fill="#f3f4f8"/><rect x="966.11" y="192.5" width="32.06" height="294.5" fill="#f3f4f8"/><rect x="1078.32" y="192.5" width="32.06" height="294.5" fill="#f3f4f8"/><rect x="1190.53" y="192.5" width="32.06" height="294.5" fill="#f3f4f8"/><rect x="1302.74" y="192.5" width="32.06" height="294.5" fill="#f3f4f8"/><path d="M364 295.5 H1360" stroke="#e9ebef" stroke-width="1" fill="none"/><path d="M364 326.5 H1360" stroke="#e9ebef" stroke-width="1" fill="none"/><path d="M364 347.5 H1360" stroke="#e9ebef" stroke-width="1" fill="none"/><path d="M364 368.5 H1360" stroke="#e9ebef" stroke-width="1" fill="none"/><path d="M364 412.5 H1360" stroke="#e9ebef" stroke-width="1" fill="none"/><path d="M364 455 H1360" stroke="#e9ebef" stroke-width="1" fill="none"/></svg>
<div style="position:absolute;left:317.00px;top:274.02px;font-size:9px;font-weight:400;color:#5f6b7a;line-height:13px;white-space:pre;letter-spacing:0.141px;">Very high</div>
<div style="position:absolute;left:337.10px;top:304.92px;font-size:9px;font-weight:400;color:#5f6b7a;line-height:13px;white-space:pre;letter-spacing:0.046px;">High</div>
<div style="position:absolute;left:320.30px;top:330.22px;font-size:9px;font-weight:400;color:#5f6b7a;line-height:13px;white-space:pre;letter-spacing:0.059px;">Elevated</div>
<div style="position:absolute;left:326.30px;top:351.12px;font-size:9px;font-weight:400;color:#5f6b7a;line-height:13px;white-space:pre;letter-spacing:0.081px;">Normal</div>
<div style="position:absolute;left:339.00px;top:384.42px;font-size:9px;font-weight:400;color:#5f6b7a;line-height:13px;white-space:pre;letter-spacing:0.095px;">Low</div>
<div style="position:absolute;left:320.80px;top:427.92px;font-size:9px;font-weight:400;color:#5f6b7a;line-height:13px;white-space:pre;letter-spacing:0.123px;">Very low</div>
<svg style="position:absolute;left:0;top:0;overflow:visible" width="1400" height="620" viewBox="0 0 1400 620"><path d="M1070.3 192.5 V487" stroke="#d4d7dd" stroke-width="1.2" fill="none"/><rect x="377.40" y="372.00" width="7.2" height="82.80" fill="#7ab9f7"/><rect x="393.43" y="392.10" width="7.2" height="62.70" fill="#7ab9f7"/><rect x="409.46" y="372.80" width="7.2" height="82.00" fill="#7ab9f7"/><rect x="425.49" y="372.00" width="7.2" height="82.80" fill="#7ab9f7"/><rect x="441.52" y="383.10" width="7.2" height="71.70" fill="#7ab9f7"/><rect x="457.55" y="392.90" width="7.2" height="61.90" fill="#7ab9f7"/><rect x="473.58" y="384.60" width="7.2" height="70.20" fill="#7ab9f7"/><rect x="489.61" y="353.90" width="7.2" height="100.90" fill="#cde4fb"/><rect x="505.64" y="350.80" width="7.2" height="104.00" fill="#cde4fb"/><rect x="521.67" y="379.50" width="7.2" height="75.30" fill="#7ab9f7"/><rect x="537.70" y="385.40" width="7.2" height="69.40" fill="#7ab9f7"/><rect x="553.73" y="418.20" width="7.2" height="36.60" fill="#4090f2"/><rect x="569.76" y="383.80" width="7.2" height="71.00" fill="#7ab9f7"/><rect x="585.79" y="402.70" width="7.2" height="52.10" fill="#7ab9f7"/><rect x="601.82" y="406.50" width="7.2" height="48.30" fill="#7ab9f7"/><rect x="617.85" y="422.00" width="7.2" height="32.80" fill="#4090f2"/><rect x="633.88" y="382.60" width="7.2" height="72.20" fill="#7ab9f7"/><rect x="649.91" y="363.20" width="7.2" height="91.60" fill="#cde4fb"/><rect x="665.94" y="388.20" width="7.2" height="66.60" fill="#7ab9f7"/><rect x="681.97" y="369.90" width="7.2" height="84.90" fill="#7ab9f7"/><rect x="698.00" y="342.00" width="7.2" height="112.80" fill="#fbd2cd"/><rect x="714.03" y="351.90" width="7.2" height="102.90" fill="#cde4fb"/><rect x="730.06" y="358.80" width="7.2" height="96.00" fill="#cde4fb"/><rect x="746.09" y="380.00" width="7.2" height="74.80" fill="#7ab9f7"/><rect x="762.12" y="375.00" width="7.2" height="79.80" fill="#7ab9f7"/><rect x="778.15" y="385.00" width="7.2" height="69.80" fill="#7ab9f7"/><rect x="794.18" y="360.00" width="7.2" height="94.80" fill="#cde4fb"/><rect x="810.21" y="340.00" width="7.2" height="114.80" fill="#fbd2cd"/><rect x="826.24" y="335.00" width="7.2" height="119.80" fill="#fbd2cd"/><rect x="842.27" y="338.00" width="7.2" height="116.80" fill="#fbd2cd"/><rect x="858.30" y="330.00" width="7.2" height="124.80" fill="#fbd2cd"/><rect x="874.33" y="335.00" width="7.2" height="119.80" fill="#fbd2cd"/><rect x="890.36" y="380.00" width="7.2" height="74.80" fill="#7ab9f7"/><rect x="906.39" y="360.00" width="7.2" height="94.80" fill="#cde4fb"/><rect x="922.42" y="300.00" width="7.2" height="154.80" fill="#f25e4c"/><rect x="938.45" y="300.00" width="7.2" height="154.80" fill="#f25e4c"/><rect x="954.48" y="360.00" width="7.2" height="94.80" fill="#cde4fb"/><rect x="970.51" y="380.00" width="7.2" height="74.80" fill="#7ab9f7"/><rect x="986.54" y="380.00" width="7.2" height="74.80" fill="#7ab9f7"/><rect x="1002.57" y="385.00" width="7.2" height="69.80" fill="#7ab9f7"/><rect x="1018.60" y="397.00" width="7.2" height="57.80" fill="#7ab9f7"/><rect x="1034.63" y="256.50" width="7.2" height="198.30" fill="#f25e4c"/><rect x="1050.66" y="206.50" width="7.2" height="248.30" fill="#f25e4c"/><rect x="1066.29" y="207.00" width="8.00" height="248.60" fill="#f05c4a" stroke="#3b2a2a" stroke-width="1"/><rect x="1082.72" y="252.50" width="7.2" height="202.30" fill="#f25e4c"/><rect x="1098.75" y="261.00" width="7.2" height="193.80" fill="#f25e4c"/><rect x="1114.78" y="355.00" width="7.2" height="99.80" fill="#cde4fb"/><rect x="1130.81" y="371.00" width="7.2" height="83.80" fill="#7ab9f7"/><rect x="1146.84" y="348.50" width="7.2" height="106.30" fill="#cde4fb"/><rect x="1162.87" y="340.00" width="7.2" height="114.80" fill="#fbd2cd"/><rect x="1178.90" y="373.00" width="7.2" height="81.80" fill="#7ab9f7"/><rect x="1194.93" y="390.00" width="7.2" height="64.80" fill="#7ab9f7"/><rect x="1210.96" y="381.00" width="7.2" height="73.80" fill="#7ab9f7"/><rect x="1226.99" y="397.50" width="7.2" height="57.30" fill="#7ab9f7"/><rect x="1243.02" y="356.00" width="7.2" height="98.80" fill="#cde4fb"/><rect x="1259.05" y="346.00" width="7.2" height="108.80" fill="#fbd2cd"/><rect x="1275.08" y="328.50" width="7.2" height="126.30" fill="#fbd2cd"/><rect x="1291.11" y="389.00" width="7.2" height="65.80" fill="#7ab9f7"/><rect x="1307.14" y="395.50" width="7.2" height="59.30" fill="#7ab9f7"/><rect x="1323.17" y="402.00" width="7.2" height="52.80" fill="#7ab9f7"/><rect x="1339.20" y="406.50" width="7.2" height="48.30" fill="#7ab9f7"/><defs><linearGradient id="wg" x1="0" y1="0" x2="0" y2="1"><stop offset="0" stop-color="#fff" stop-opacity="0.42"/><stop offset="0.7" stop-color="#fff" stop-opacity="0"/></linearGradient></defs><rect x="738" y="407" width="276" height="47.5" fill="url(#wg)"/><path d="M364 487 H1360" stroke="#dfe2e8" stroke-width="1" fill="none"/><path d="M381.00 487 V493.5" stroke="#e3e6eb" stroke-width="1" fill="none"/><path d="M461.15 487 V493.5" stroke="#e3e6eb" stroke-width="1" fill="none"/><path d="M541.30 487 V493.5" stroke="#e3e6eb" stroke-width="1" fill="none"/><path d="M621.45 487 V493.5" stroke="#e3e6eb" stroke-width="1" fill="none"/><path d="M701.60 487 V493.5" stroke="#e3e6eb" stroke-width="1" fill="none"/><path d="M781.75 487 V493.5" stroke="#e3e6eb" stroke-width="1" fill="none"/><path d="M861.90 487 V493.5" stroke="#e3e6eb" stroke-width="1" fill="none"/><path d="M942.05 487 V493.5" stroke="#e3e6eb" stroke-width="1" fill="none"/><path d="M1022.20 487 V493.5" stroke="#e3e6eb" stroke-width="1" fill="none"/><path d="M1102.35 487 V493.5" stroke="#e3e6eb" stroke-width="1" fill="none"/><path d="M1182.50 487 V493.5" stroke="#e3e6eb" stroke-width="1" fill="none"/><path d="M1262.65 487 V493.5" stroke="#e3e6eb" stroke-width="1" fill="none"/><path d="M1342.80 487 V493.5" stroke="#e3e6eb" stroke-width="1" fill="none"/></svg>
<div style="position:absolute;left:356.15px;top:491.81px;font-size:9px;font-weight:400;color:#5f6b7a;line-height:13px;white-space:pre;letter-spacing:-0.279px;">Mar 12, 2025</div>
<div style="position:absolute;left:436.30px;top:491.81px;font-size:9px;font-weight:400;color:#5f6b7a;line-height:13px;white-space:pre;letter-spacing:-0.279px;">Mar 17, 2025</div>
<div style="position:absolute;left:516.45px;top:491.81px;font-size:9px;font-weight:400;color:#5f6b7a;line-height:13px;white-space:pre;letter-spacing:-0.279px;">Mar 22, 2025</div>
<div style="position:absolute;left:596.60px;top:491.81px;font-size:9px;font-weight:400;color:#5f6b7a;line-height:13px;white-space:pre;letter-spacing:-0.279px;">Mar 27, 2025</div>
<div style="position:absolute;left:679.90px;top:491.81px;font-size:9px;font-weight:400;color:#5f6b7a;line-height:13px;white-space:pre;letter-spacing:-0.286px;">Apr 1, 2025</div>
<div style="position:absolute;left:760.05px;top:491.81px;font-size:9px;font-weight:400;color:#5f6b7a;line-height:13px;white-space:pre;letter-spacing:-0.286px;">Apr 6, 2025</div>
<div style="position:absolute;left:838.00px;top:491.81px;font-size:9px;font-weight:400;color:#5f6b7a;line-height:13px;white-space:pre;letter-spacing:-0.256px;">Apr 11, 2025</div>
<div style="position:absolute;left:918.15px;top:491.81px;font-size:9px;font-weight:400;color:#5f6b7a;line-height:13px;white-space:pre;letter-spacing:-0.312px;">Apr 16, 2025</div>
<div style="position:absolute;left:998.30px;top:491.81px;font-size:9px;font-weight:400;color:#5f6b7a;line-height:13px;white-space:pre;letter-spacing:-0.312px;">Apr 21, 2025</div>
<div style="position:absolute;left:1078.45px;top:491.81px;font-size:9px;font-weight:400;color:#5f6b7a;line-height:13px;white-space:pre;letter-spacing:-0.312px;">Apr 26, 2025</div>
<div style="position:absolute;left:1159.30px;top:491.81px;font-size:9px;font-weight:400;color:#5f6b7a;line-height:13px;white-space:pre;letter-spacing:-0.285px;">May 1, 2025</div>
<div style="position:absolute;left:1239.45px;top:491.81px;font-size:9px;font-weight:400;color:#5f6b7a;line-height:13px;white-space:pre;letter-spacing:-0.285px;">May 6, 2025</div>
<div style="position:absolute;left:1310.80px;top:491.81px;font-size:9px;font-weight:400;color:#5f6b7a;line-height:13px;white-space:pre;letter-spacing:-0.390px;">May 11, 2025</div>
<svg style="position:absolute;left:0;top:0;overflow:visible" width="1400" height="620" viewBox="0 0 1400 620"><polyline points="381.00,436 397.03,436 413.06,436 429.09,448 445.12,448 461.15,436 477.18,436 493.21,436 509.24,436 525.27,442.4 541.30,448 557.33,448 573.36,436 589.39,436 605.42,436 621.45,436 637.48,429.8 653.51,435.7 669.54,447.8 685.57,435.7 701.60,435.7 717.63,435.7 733.66,435.7 749.69,411.3 765.72,411.3 781.75,435.5 797.78,435.5 813.81,411.3 829.84,398 845.87,398 861.90,398 877.93,411.3 893.96,411.3 909.99,396 926.02,396 942.05,396 958.08,410.5 974.11,410.5 990.14,417 1006.17,417 1022.20,411 1038.23,415 1054.26,421 1070.29,417.5 1086.32,399 1102.35,378.5 1118.38,398.5 1134.41,398.5 1150.44,386.5 1166.47,386.5 1182.50,376 1198.53,349.5 1214.56,349.5 1230.59,386.5 1246.62,386.5 1262.65,362.5 1278.68,288.5 1294.71,337 1310.74,337 1326.77,324 1342.80,399" fill="none" stroke="#2c89c6" stroke-width="2.1" stroke-linejoin="round" stroke-linecap="round"/><rect x="1063.79" y="412.0" width="13" height="11" rx="3" fill="#bcd9f2" opacity="0.3"/><circle cx="525.27" cy="442.4" r="2.85" fill="#fff" stroke="#2c89c6" stroke-width="1.6"/><circle cx="541.30" cy="448" r="2.85" fill="#fff" stroke="#2c89c6" stroke-width="1.6"/><circle cx="637.48" cy="429.8" r="2.85" fill="#fff" stroke="#2c89c6" stroke-width="1.6"/><circle cx="653.51" cy="435.7" r="2.85" fill="#fff" stroke="#2c89c6" stroke-width="1.6"/><circle cx="669.54" cy="447.8" r="2.85" fill="#fff" stroke="#2c89c6" stroke-width="1.6"/><circle cx="685.57" cy="435.7" r="2.85" fill="#fff" stroke="#2c89c6" stroke-width="1.6"/><circle cx="701.60" cy="435.7" r="2.85" fill="#fff" stroke="#2c89c6" stroke-width="1.6"/><circle cx="717.63" cy="435.7" r="2.85" fill="#fff" stroke="#2c89c6" stroke-width="1.6"/><circle cx="733.66" cy="435.7" r="2.85" fill="#fff" stroke="#2c89c6" stroke-width="1.6"/><circle cx="749.69" cy="411.3" r="2.85" fill="#fff" stroke="#2c89c6" stroke-width="1.6"/><circle cx="765.72" cy="411.3" r="2.85" fill="#fff" stroke="#2c89c6" stroke-width="1.6"/><circle cx="797.78" cy="435.5" r="2.85" fill="#fff" stroke="#2c89c6" stroke-width="1.6"/><circle cx="813.81" cy="411.3" r="2.85" fill="#fff" stroke="#2c89c6" stroke-width="1.6"/><circle cx="877.93" cy="411.3" r="2.85" fill="#fff" stroke="#2c89c6" stroke-width="1.6"/><circle cx="1038.23" cy="415" r="2.85" fill="#fff" stroke="#2c89c6" stroke-width="1.6"/><circle cx="1054.26" cy="421" r="2.85" fill="#fff" stroke="#2c89c6" stroke-width="1.6"/><circle cx="1070.29" cy="417.5" r="2.85" fill="#fff" stroke="#2c89c6" stroke-width="1.6"/><circle cx="1086.32" cy="399" r="2.85" fill="#fff" stroke="#2c89c6" stroke-width="1.6"/><circle cx="1102.35" cy="378.5" r="2.85" fill="#fff" stroke="#2c89c6" stroke-width="1.6"/><circle cx="1166.47" cy="386.5" r="2.85" fill="#fff" stroke="#2c89c6" stroke-width="1.6"/><circle cx="1294.71" cy="337" r="2.85" fill="#fff" stroke="#2c89c6" stroke-width="1.6"/><circle cx="1310.74" cy="337" r="2.85" fill="#fff" stroke="#2c89c6" stroke-width="1.6"/><circle cx="1326.77" cy="324" r="2.85" fill="#fff" stroke="#2c89c6" stroke-width="1.6"/></svg>
<div style="position:absolute;left:513.00px;top:515.00px;width:10.20px;height:10.00px;background:#4090f2;border-radius:0px;"></div>
<div style="position:absolute;left:524.70px;top:515.00px;width:10.20px;height:10.00px;background:#7ab9f7;border-radius:0px;"></div>
<div style="position:absolute;left:536.40px;top:515.00px;width:10.20px;height:10.00px;background:#cde4fb;border-radius:0px;"></div>
<div style="position:absolute;left:548.10px;top:515.00px;width:10.20px;height:10.00px;background:#fbd2cd;border-radius:0px;"></div>
<div style="position:absolute;left:559.80px;top:515.00px;width:10.20px;height:10.00px;background:#f5958a;border-radius:0px;"></div>
<div style="position:absolute;left:571.50px;top:515.00px;width:10.20px;height:10.00px;background:#f05a49;border-radius:0px;"></div>
<div style="position:absolute;left:585.50px;top:513.82px;font-size:9px;font-weight:400;color:#3a4658;line-height:13px;white-space:pre;letter-spacing:0.122px;-webkit-text-stroke:0.3px #3a4658;">Demand level</div>
<svg style="position:absolute;left:0;top:0;overflow:visible" width="1400" height="620" viewBox="0 0 1400 620"><circle cx="649.3" cy="520" r="3.6" fill="none" stroke="#6b7a8d" stroke-width="0.9"/><path d="M649.3 519.6 V521.7" stroke="#6b7a8d" stroke-width="0.9" fill="none"/><circle cx="649.3" cy="518.3" r="0.5" fill="#6b7a8d"/><path d="M665.3 520 H676" stroke="#2c89c6" stroke-width="1.8" fill="none"/></svg>
<div style="position:absolute;left:679.30px;top:513.82px;font-size:9px;font-weight:400;color:#3a4658;line-height:13px;white-space:pre;letter-spacing:0.177px;-webkit-text-stroke:0.3px #3a4658;">My price level</div>
<svg style="position:absolute;left:0;top:0;overflow:visible" width="1400" height="620" viewBox="0 0 1400 620"><circle cx="744.2" cy="520" r="3.6" fill="none" stroke="#6b7a8d" stroke-width="0.9"/><path d="M744.2 519.6 V521.7" stroke="#6b7a8d" stroke-width="0.9" fill="none"/><circle cx="744.2" cy="518.3" r="0.5" fill="#6b7a8d"/><circle cx="763.2" cy="520.2" r="2.5" fill="#fff" stroke="#2c89c6" stroke-width="1.4"/></svg>
<div style="position:absolute;left:770.20px;top:513.82px;font-size:9px;font-weight:400;color:#3a4658;line-height:13px;white-space:pre;letter-spacing:0.361px;-webkit-text-stroke:0.3px #3a4658;">Opportunity</div>
<svg style="position:absolute;left:0;top:0;overflow:visible" width="1400" height="620" viewBox="0 0 1400 620"><circle cx="828.3" cy="520" r="3.6" fill="none" stroke="#6b7a8d" stroke-width="0.9"/><path d="M828.3 519.6 V521.7" stroke="#6b7a8d" stroke-width="0.9" fill="none"/><circle cx="828.3" cy="518.3" r="0.5" fill="#6b7a8d"/></svg>
<div style="position:absolute;left:858.00px;top:513.82px;font-size:9px;font-weight:400;color:#b3b8c2;line-height:13px;white-space:pre;letter-spacing:0.178px;">Smart Compset price level</div>
<svg style="position:absolute;left:0;top:0;overflow:visible" width="1400" height="620" viewBox="0 0 1400 620"><circle cx="976" cy="520" r="3.6" fill="none" stroke="#566272" stroke-width="0.9"/><path d="M976 519.6 V521.7" stroke="#566272" stroke-width="0.9" fill="none"/><circle cx="976" cy="518.3" r="0.5" fill="#566272"/><g fill="none" stroke="#a7adb8" stroke-width="1.05" stroke-linecap="round" stroke-linejoin="round"><path d="M997.6 523.2 V516.9 M995.2 519.3 L997.6 516.9 L1000 519.3"/><path d="M1009.7 516.9 V523.2 M1007.3 520.8 L1009.7 523.2 L1012.1 520.8"/></g></svg>
<div style="position:absolute;left:1019.00px;top:513.82px;font-size:9px;font-weight:400;color:#b3b8c2;line-height:13px;white-space:pre;letter-spacing:0.122px;">Demand change vs. 7 days ago</div>
<svg style="position:absolute;left:0;top:0;overflow:visible" width="1400" height="620" viewBox="0 0 1400 620"><circle cx="1156.3" cy="520" r="3.6" fill="none" stroke="#566272" stroke-width="0.9"/><path d="M1156.3 519.6 V521.7" stroke="#566272" stroke-width="0.9" fill="none"/><circle cx="1156.3" cy="518.3" r="0.5" fill="#566272"/></svg>
<div style="position:absolute;left:740.30px;top:140.30px;width:271.70px;height:268.70px;background:#fff;border-radius:2px;box-shadow:0 1px 4px rgba(30,40,60,.16),0 0 1px rgba(30,40,60,.12);"></div>
<div style="position:absolute;left:818.50px;top:145.28px;font-size:11px;font-weight:400;color:#3a4658;line-height:15px;white-space:pre;letter-spacing:-0.052px;">Thursday April 24, 2025</div>
<div style="position:absolute;left:740.30px;top:163.90px;width:271.70px;height:33.70px;background:#fdf6e4;border-radius:4px;box-sizing:border-box;border:1px solid #f4dfa3;"></div>
<div style="position:absolute;left:749.80px;top:174.08px;font-size:11px;font-weight:700;color:#4d1f1c;line-height:15px;white-space:pre;letter-spacing:-0.304px;">Your price is lower than expected</div>
<div style="position:absolute;left:819.00px;top:210.72px;font-size:9px;font-weight:700;color:#2a3444;line-height:13px;white-space:pre;letter-spacing:0.026px;">Current</div>
<div style="position:absolute;left:891.90px;top:210.72px;font-size:9px;font-weight:700;color:#2a3444;line-height:13px;white-space:pre;letter-spacing:-0.110px;">vs. 7 days ago</div>
<div style="position:absolute;left:740.30px;top:229.40px;width:271.70px;height:25.10px;background:#f8f9fb;border-radius:0px;"></div>
<div style="position:absolute;left:740.30px;top:229.00px;width:271.70px;height:1.00px;background:#eceef2;border-radius:0px;"></div>
<div style="position:absolute;left:740.30px;top:254.20px;width:271.70px;height:1.00px;background:#eceef2;border-radius:0px;"></div>
<div style="position:absolute;left:740.30px;top:280.20px;width:271.70px;height:25.40px;background:#f8f9fb;border-radius:0px;"></div>
<div style="position:absolute;left:740.30px;top:279.80px;width:271.70px;height:1.00px;background:#eceef2;border-radius:0px;"></div>
<div style="position:absolute;left:740.30px;top:305.30px;width:271.70px;height:1.00px;background:#eceef2;border-radius:0px;"></div>
<div style="position:absolute;left:745.70px;top:235.51px;font-size:9px;font-weight:400;color:#5f6b7a;line-height:13px;white-space:pre;letter-spacing:0.061px;">Demand</div>
<div style="position:absolute;left:819.00px;top:237.80px;width:8.70px;height:8.60px;background:#f05a49;border-radius:0px;"></div>
<div style="position:absolute;left:830.70px;top:235.51px;font-size:9px;font-weight:400;color:#5f6b7a;line-height:13px;white-space:pre;letter-spacing:0.163px;">Very high</div>
<div style="position:absolute;left:891.90px;top:235.51px;font-size:9px;font-weight:400;color:#5f6b7a;line-height:13px;white-space:pre;letter-spacing:0.128px;">No change</div>
<div style="position:absolute;left:745.70px;top:262.01px;font-size:9px;font-weight:400;color:#5f6b7a;line-height:13px;white-space:pre;letter-spacing:-0.050px;">My OTB</div>
<div style="position:absolute;left:819.00px;top:262.01px;font-size:9px;font-weight:400;color:#5f6b7a;line-height:13px;white-space:pre;letter-spacing:0.170px;">9% (22/242)</div>
<div style="position:absolute;left:891.90px;top:262.01px;font-size:9px;font-weight:400;color:#2f8f5b;line-height:13px;white-space:pre;letter-spacing:0.062px;">2% (+5)</div>
<div style="position:absolute;left:745.70px;top:286.81px;font-size:9px;font-weight:400;color:#5f6b7a;line-height:13px;white-space:pre;letter-spacing:0.198px;">My price</div>
<div style="position:absolute;left:819.00px;top:286.81px;font-size:9px;font-weight:400;color:#5f6b7a;line-height:13px;white-space:pre;letter-spacing:-0.046px;">$ 124</div>
<svg style="position:absolute;left:0;top:0;overflow:visible" width="1400" height="620" viewBox="0 0 1400 620"><g transform="translate(844.6 289.2)"><path d="M0.6 0.6 H3.6 L7.2 4.2 L4.2 7.2 L0.6 3.6 Z" fill="#2c3a4d"/><circle cx="2.1" cy="2.1" r="0.7" fill="#f8f9fb"/><path d="M4.6 0.6 L8 4.1 L5.2 7.0" fill="none" stroke="#2c3a4d" stroke-width="0.9"/></g></svg>
<div style="position:absolute;left:745.70px;top:315.20px;width:97.20px;height:14.40px;background:#e7eaf0;border-radius:7.2px;"></div>
<svg style="position:absolute;left:0;top:0;overflow:visible" width="1400" height="620" viewBox="0 0 1400 620"><g transform="translate(753.4 318.2)" fill="none" stroke="#2c3a4d" stroke-width="1.1" stroke-linejoin="round" stroke-linecap="round"><rect x="0.4" y="1.3" width="7.8" height="7.2" rx="1"/><path d="M0.4 3.5 H8.2 M2.4 0.3 V2 M6.2 0.3 V2 M2.9 5.9 L3.9 6.9 L5.9 4.9"/><rect x="0.4" y="1.3" width="7.8" height="2.0" fill="#2c3a4d" stroke="none"/></g></svg>
<div style="position:absolute;left:766.30px;top:316.21px;font-size:9px;font-weight:400;color:#3a4658;line-height:13px;white-space:pre;letter-spacing:0.134px;">1 accepted event</div>
<div style="position:absolute;left:745.70px;top:345.21px;font-size:9px;font-weight:400;color:#3a4658;line-height:13px;white-space:pre;letter-spacing:0.117px;">Last 7 days searches</div>
<svg style="position:absolute;left:0;top:0;overflow:visible" width="1400" height="620" viewBox="0 0 1400 620"><g transform="translate(751.3 370.3) rotate(45)"><path d="M0 -4.6 C0.7 -4.6 0.9 -3.8 0.9 -3 V-1.2 L4.6 1.4 V2.5 L0.9 1.2 V3.2 L2 4.1 V4.8 L0 4.3 L-2 4.8 V4.1 L-0.9 3.2 V1.2 L-4.6 2.5 V1.4 L-0.9 -1.2 V-3 C-0.9 -3.8 -0.7 -4.6 0 -4.6 Z" fill="#2c3a4d"/></g></svg>
<div style="position:absolute;left:763.40px;top:363.30px;width:85.20px;height:14.20px;background:#fbcfcb;border-radius:7.1px;"></div>
<div style="position:absolute;left:769.20px;top:364.92px;font-size:9px;font-weight:400;color:#4a2b2b;line-height:13px;white-space:pre;letter-spacing:0.109px;">Meta/OTA: Higher</div>
<div style="position:absolute;left:851.70px;top:363.30px;width:64.80px;height:14.20px;background:#e7eaf0;border-radius:7.1px;"></div>
<div style="position:absolute;left:857.50px;top:364.92px;font-size:9px;font-weight:400;color:#3a4658;line-height:13px;white-space:pre;letter-spacing:-0.029px;">GDS: Normal</div>
<svg style="position:absolute;left:0;top:0;overflow:visible" width="1400" height="620" viewBox="0 0 1400 620"><g transform="translate(747 387.6)" fill="none" stroke="#2c3a4d" stroke-width="0.9" stroke-linecap="round" stroke-linejoin="round"><path d="M0.2 3.0 L4.5 0.3 L8.8 3.0" stroke-width="0.8"/><path d="M1.6 4.3 L4.5 2.4 L7.4 4.3" stroke-width="0.8"/><path d="M1.5 9.0 V5.6 M1.5 7.7 H7.7 V9.0 M3.6 7.5 V6.3 H6.5 Q7.7 6.3 7.7 7.5" stroke-width="1.0"/><circle cx="2.5" cy="6.5" r="0.5" fill="#2c3a4d"/></g></svg>
<div style="position:absolute;left:763.40px;top:385.40px;width:85.20px;height:14.20px;background:#fbcfcb;border-radius:7.1px;"></div>
<div style="position:absolute;left:769.20px;top:387.01px;font-size:9px;font-weight:400;color:#4a2b2b;line-height:13px;white-space:pre;letter-spacing:0.109px;">Meta/OTA: Higher</div>
<div style="position:absolute;left:851.70px;top:385.40px;width:61.90px;height:14.20px;background:#fbcfcb;border-radius:7.1px;"></div>
<div style="position:absolute;left:857.50px;top:387.01px;font-size:9px;font-weight:400;color:#4a2b2b;line-height:13px;white-space:pre;letter-spacing:-0.021px;">GDS: Higher</div>
<svg style="position:absolute;left:0;top:0;overflow:visible" width="1400" height="620" viewBox="0 0 1400 620"><g transform="translate(1067.6 321.2) rotate(-18 5 6)"><path d="M3.2 0.8 C3.9 0.5 4.5 0.9 4.6 1.6 L4.9 5 L5.2 4.4 C5.6 4 6.3 4.1 6.5 4.6 C6.9 4.2 7.7 4.3 7.9 4.9 C8.4 4.6 9.1 4.9 9.2 5.5 L9.4 8.2 C9.5 9.6 9.0 10.6 8.4 11.3 H3.8 C2.6 10.2 1.6 8.8 0.8 7.6 C0.4 6.9 1.2 6.2 1.9 6.8 L2.9 7.8 L2.4 1.9 C2.3 1.3 2.7 0.9 3.2 0.8 Z" fill="#fff" stroke="#111" stroke-width="0.95" stroke-linejoin="round"/><path d="M5.3 7.4 V9.4 M6.5 7.4 V9.4 M7.7 7.4 V9.4" stroke="#555" stroke-width="0.5"/></g></svg>
</div></div>
</body></html>
